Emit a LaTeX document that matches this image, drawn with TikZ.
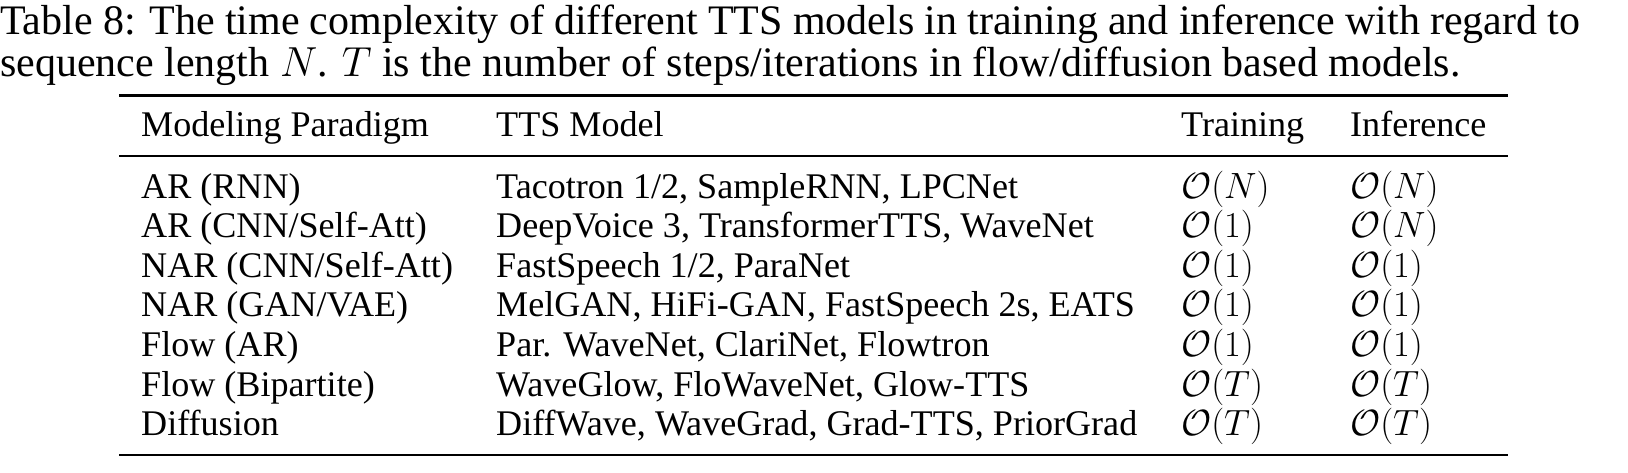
\RequirePackage{fix-cm}
\documentclass[tikz,border=0pt]{standalone}
\usepackage{fontspec}
\setmainfont{Liberation Serif}
\begin{document}
\begin{tikzpicture}[x=1pt,y=-1pt,
  txt/.style={anchor=base west,inner sep=0pt,font=\fontsize{36.1}{43}\selectfont},
  mtxt/.style={anchor=base west,inner sep=0pt,font=\fontsize{36.5}{43}\selectfont},
  captxt/.style={anchor=base west,inner sep=0pt,font=\fontsize{42}{46}\selectfont},
  heavyrule/.style={line width=2.9pt},
  lightrule/.style={line width=1.8pt}]
\useasboundingbox (0,0) rectangle (1628,472);
% caption
\node[captxt] (cap1) at (0,34.5) {\makebox[1580pt][s]{Table 8: The time complexity of different TTS models in training and inference with regard to}};
\node[captxt] (cap2) at (0,76) {sequence length $N$. $T$ is the number of steps/iterations in flow/diffusion based models.};
% rules
\coordinate (tl) at (119,95.5); \coordinate (tr) at (1508,95.5);
\coordinate (ml) at (119,156); \coordinate (mr) at (1508,156);
\coordinate (bl) at (119,455); \coordinate (br) at (1508,455);
\draw[heavyrule] (tl) -- (tr);
\draw[lightrule] (ml) -- (mr);
\draw[heavyrule] (bl) -- (br);
% header
\node[txt] (h1) at (141,136) {Modeling Paradigm};
\node[txt] (h2) at (496,136) {TTS Model};
\node[txt] (h3) at (1181,136) {Training};
\node[txt] (h4) at (1350,136) {Inference};
% row 1
\node[txt] (p1) at (141,198) {AR (RNN)};
\node[txt] (m1) at (496,198) {Tacotron 1/2, SampleRNN, LPCNet};
\node[mtxt] (t1) at (1181,198) {$\mathcal{O}(N)$};
\node[mtxt] (f1) at (1350,198) {$\mathcal{O}(N)$};
% row 2
\node[txt] (p2) at (141,237.6) {AR (CNN/Self-Att)};
\node[txt] (m2) at (496,237.6) {DeepVoice 3, TransformerTTS, WaveNet};
\node[mtxt] (t2) at (1181,237.6) {$\mathcal{O}(1)$};
\node[mtxt] (f2) at (1350,237.6) {$\mathcal{O}(N)$};
% row 3
\node[txt] (p3) at (141,277.2) {NAR (CNN/Self-Att)};
\node[txt] (m3) at (496,277.2) {FastSpeech 1/2, ParaNet};
\node[mtxt] (t3) at (1181,277.2) {$\mathcal{O}(1)$};
\node[mtxt] (f3) at (1350,277.2) {$\mathcal{O}(1)$};
% row 4
\node[txt] (p4) at (141,316.8) {NAR (GAN/VAE)};
\node[txt] (m4) at (496,316.8) {MelGAN, HiFi-GAN, FastSpeech 2s, EATS};
\node[mtxt] (t4) at (1181,316.8) {$\mathcal{O}(1)$};
\node[mtxt] (f4) at (1350,316.8) {$\mathcal{O}(1)$};
% row 5
\node[txt] (p5) at (141,356.4) {Flow (AR)};
\node[txt] (m5) at (496,356.4) {Par. WaveNet, ClariNet, Flowtron};
\node[mtxt] (t5) at (1181,356.4) {$\mathcal{O}(1)$};
\node[mtxt] (f5) at (1350,356.4) {$\mathcal{O}(1)$};
% row 6
\node[txt] (p6) at (141,396) {Flow (Bipartite)};
\node[txt] (m6) at (496,396) {WaveGlow, FloWaveNet, Glow-TTS};
\node[mtxt] (t6) at (1181,396) {$\mathcal{O}(T)$};
\node[mtxt] (f6) at (1350,396) {$\mathcal{O}(T)$};
% row 7
\node[txt] (p7) at (141,435.6) {Diffusion};
\node[txt] (m7) at (496,435.6) {DiffWave, WaveGrad, Grad-TTS, PriorGrad};
\node[mtxt] (t7) at (1181,435.6) {$\mathcal{O}(T)$};
\node[mtxt] (f7) at (1350,435.6) {$\mathcal{O}(T)$};
\end{tikzpicture}
\end{document}
